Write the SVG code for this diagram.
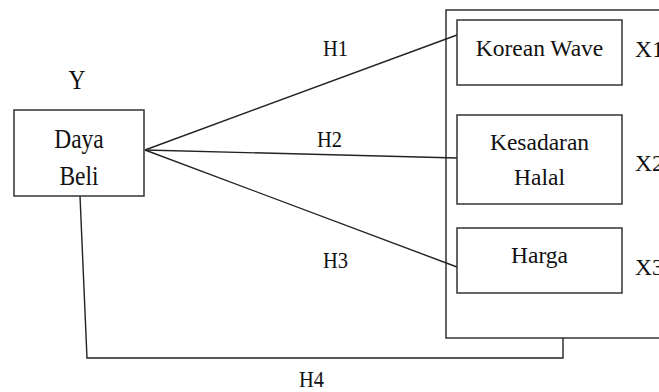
<svg xmlns="http://www.w3.org/2000/svg" width="659" height="392" viewBox="0 0 659 392">
<style>
.box{fill:#fff;stroke:#333;stroke-width:1.5}
.ln{fill:none;stroke:#222;stroke-width:1.4}
text{font-family:'Liberation Serif','DejaVu Serif',serif;fill:#111}
.t{font-size:23.5px}
.tc{text-anchor:middle}
.h{font-size:20.5px}
</style>
<rect width="659" height="392" fill="#fff"/>
<g id="outer"><rect class="box" x="446" y="10" width="230" height="328"/></g>
<g id="connectors">
<line class="ln" x1="145" y1="150" x2="457" y2="35"/>
<line class="ln" x1="145" y1="150" x2="457" y2="158"/>
<line class="ln" x1="145" y1="150" x2="457" y2="267"/>
<polyline class="ln" points="80,196 87,358 563,358 563,338"/>
</g>
<g id="daya-beli" font-family="Liberation Serif, serif">
<rect class="box" x="14" y="110" width="130" height="86"/>
<text class="t tc" transform="translate(79,148) scale(1,1.2)" font-size="25">Daya</text>
<text class="t tc" transform="translate(79,185) scale(1,1.2)" font-size="25">Beli</text>
<text class="t tc" transform="translate(77,89) scale(1,1.2)">Y</text>
</g>
<g id="korean-wave">
<rect class="box" x="457" y="20" width="165" height="65"/>
<text class="t tc" x="539.5" y="56">Korean Wave</text>
<text class="t" x="635" y="57">X1</text>
</g>
<g id="kesadaran-halal">
<rect class="box" x="457" y="115" width="165" height="89"/>
<text class="t tc" x="539.5" y="150">Kesadaran</text>
<text class="t tc" x="539.5" y="185">Halal</text>
<text class="t" x="635" y="171">X2</text>
</g>
<g id="harga">
<rect class="box" x="457" y="228" width="165" height="65"/>
<text class="t tc" x="539.5" y="263">Harga</text>
<text class="t" x="635" y="275">X3</text>
</g>
<g id="labels">
<text class="h" transform="translate(323,56) scale(1,1.1)">H1</text>
<text class="h" transform="translate(317,147) scale(1,1.1)">H2</text>
<text class="h" transform="translate(323,268) scale(1,1.1)">H3</text>
<text class="h" transform="translate(299,387) scale(1,1.1)">H4</text>
</g>
</svg>
